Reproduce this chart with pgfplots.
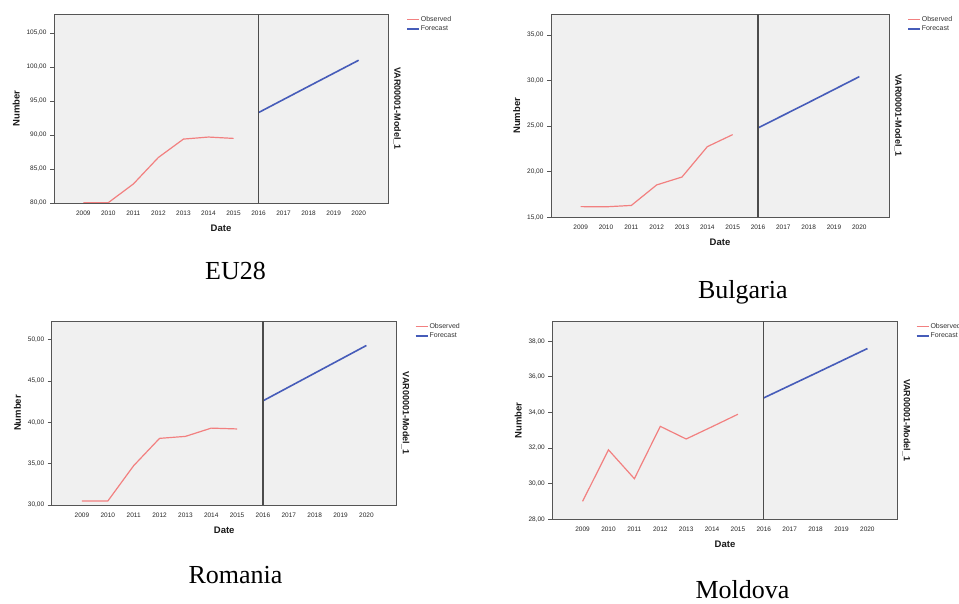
\documentclass[border=0pt]{standalone}
\usepackage{fontspec}
\setmainfont{Liberation Sans}
\newfontfamily\seriffont{Liberation Serif}
\usepackage{pgfplots}
\pgfplotsset{compat=1.18}
\definecolor{bgG}{RGB}{240,240,240}
\definecolor{frameG}{RGB}{85,85,85}
\definecolor{obsC}{RGB}{242,128,128}
\definecolor{fcC}{RGB}{70,92,185}
\tikzset{vline/.style={draw=frameG!90!black, line width=1.2pt}}
\pgfplotsset{
  spss/.style={
    scale only axis,
    anchor=south west,
    xmin=2007.83, xmax=2021.17,
    xtick={2009,...,2020},
    axis background/.style={fill=bgG},
    axis line style={draw=frameG, line width=0.9pt},
    tick align=outside,
    major tick length=4pt,
    ytick pos=left,
    xtick pos=bottom,
    y tick style={draw=frameG, line width=0.7pt},
    x tick style={draw=none},
    y tick label style={/pgf/number format/.cd, fixed, fixed zerofill, precision=2, use comma, assume math mode=true},
    x tick label style={/pgf/number format/.cd, 1000 sep={}, assume math mode=true},
    ticklabel style={font=\fontsize{6.5}{7}\selectfont, text=black!85},
    xlabel={Date}, ylabel={Number},
    label style={font=\bfseries\fontsize{9.5}{10}\selectfont, text=black!90},
    xlabel style={yshift=-3pt},
    legend style={at={(rel axis cs:1,1)}, anchor=north west, xshift=18pt, yshift=-1pt,
      draw=none, fill=none, font=\fontsize{7}{8}\selectfont, text=black!80,
      inner sep=0pt, row sep=1pt, nodes={inner sep=1pt}},
    legend cell align=left,
    legend image code/.code={\draw[##1] (0pt,0pt) -- (12pt,0pt);},
    after end axis/.code={
      \node[rotate=-90, font=\bfseries\fontsize{9}{10}\selectfont, text=black!90] at (rel axis cs:1,0.5) [yshift=9pt] {VAR00001-Model\_1};
    },
  },
  obs/.style={color=obsC, line width=1.2pt},
  fc/.style={color=fcC, line width=1.6pt},
}
\begin{document}
\begin{tikzpicture}
\useasboundingbox (0,0) rectangle (959pt,604pt);
\clip (0,0) rectangle (959pt,604pt);

% EU28
\begin{axis}[spss, at={(54pt,401pt)}, width=334pt, height=189pt,
  ymin=80, ymax=107.8, ytick={80,85,...,105}]
\addplot[obs] coordinates {(2009,80.05)(2010,80.05)(2011,82.8)(2012,86.7)(2013,89.4)(2014,89.7)(2015,89.5)};
\addlegendentry{Observed}
\addplot[fc] coordinates {(2016,93.3)(2018,97.16)(2020,101.0)};
\addlegendentry{Forecast}
\draw[vline] (axis cs:2016,80) -- (axis cs:2016,107.8);
\end{axis}

% Bulgaria
\begin{axis}[spss, at={(551pt,386.7pt)}, width=338pt, height=203pt,
  ymin=15, ymax=37.27, ytick={15,20,...,35}]
\addplot[obs] coordinates {(2009,16.17)(2010,16.15)(2011,16.3)(2012,18.55)(2013,19.42)(2014,22.75)(2015,24.07)};
\addlegendentry{Observed}
\addplot[fc] coordinates {(2016,24.8)(2018,27.6)(2020,30.43)};
\addlegendentry{Forecast}
\draw[vline] (axis cs:2016,15) -- (axis cs:2016,37.27);
\end{axis}

% Romania
\begin{axis}[spss, at={(51.7pt,99pt)}, width=345pt, height=184pt,
  ymin=30, ymax=52.26, ytick={30,35,...,50}]
\addplot[obs] coordinates {(2009,30.48)(2010,30.48)(2011,34.76)(2012,38.06)(2013,38.3)(2014,39.3)(2015,39.2)};
\addlegendentry{Observed}
\addplot[fc] coordinates {(2016,42.6)(2018,45.95)(2020,49.3)};
\addlegendentry{Forecast}
\draw[vline] (axis cs:2016,30) -- (axis cs:2016,52.26);
\end{axis}

% Moldova
\begin{axis}[spss, at={(552.3pt,84.7pt)}, width=345.4pt, height=198pt,
  ymin=28, ymax=39.12, ytick={28,30,...,38}]
\addplot[obs] coordinates {(2009,29.01)(2010,31.9)(2011,30.28)(2012,33.22)(2013,32.51)(2014,33.2)(2015,33.9)};
\addlegendentry{Observed}
\addplot[fc] coordinates {(2016,34.82)(2018,36.2)(2020,37.59)};
\addlegendentry{Forecast}
\draw[vline] (axis cs:2016,28) -- (axis cs:2016,39.12);
\end{axis}

\node[font=\seriffont\fontsize{26}{28}\selectfont, anchor=base] at (235.5pt,324.7pt) {EU28};
\node[font=\seriffont\fontsize{26}{28}\selectfont, anchor=base] at (742.8pt,305.7pt) {Bulgaria};
\node[font=\seriffont\fontsize{26}{28}\selectfont, anchor=base] at (235.5pt,20.7pt) {Romania};
\node[font=\seriffont\fontsize{26}{28}\selectfont, anchor=base] at (742.5pt,5.7pt) {Moldova};
\end{tikzpicture}
\end{document}
